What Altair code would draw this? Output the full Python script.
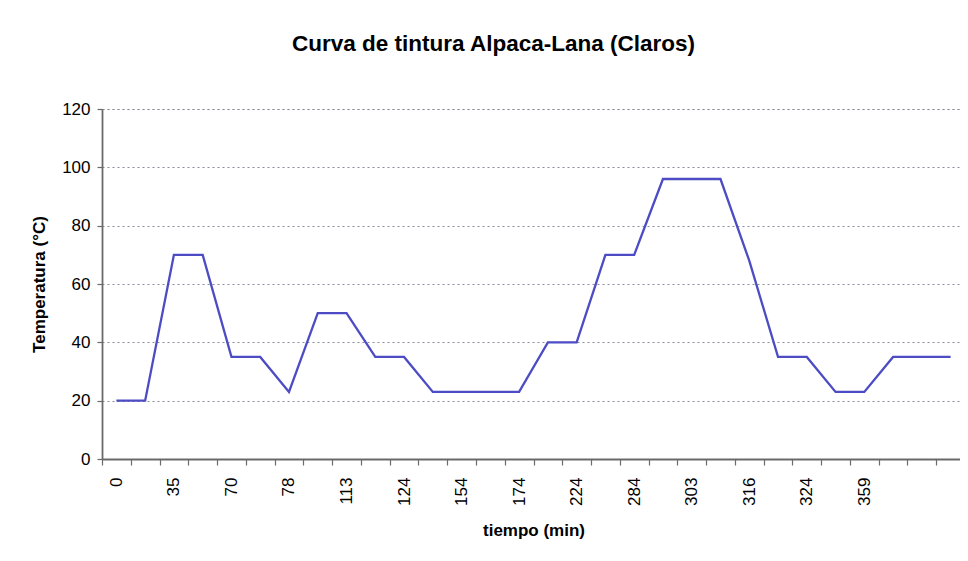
import altair as alt
import pandas as pd
import json

# Category index of each step in the dyeing curve (Excel category axis)
steps = list(range(30))
# Temperature (°C) at each step
temperatures = [20, 20, 70, 70, 35, 35, 23, 50, 50, 35,
                35, 23, 23, 23, 23, 40, 40, 70, 70, 96,
                96, 96, 68, 35, 35, 23, 23, 35, 35, 35]
# Labels shown on every other category
tick_labels = ["0", "35", "70", "78", "113", "124", "154", "174",
               "224", "284", "303", "316", "324", "359", ""]
y_ticks = [0, 20, 40, 60, 80, 100, 120]

df = pd.DataFrame({"step": steps, "temp": temperatures})

label_expr = ("datum.value % 2 == 0 ? " + json.dumps(tick_labels)
              + "[datum.value / 2] : ''")

FONT = "Liberation Sans"

chart = alt.Chart(df).mark_line(color="#4c4cc4", strokeWidth=2.3).encode(
    x=alt.X("step:O",
            bandPosition=0.5,
            scale=alt.Scale(type="band", paddingInner=0, paddingOuter=0),
            axis=alt.Axis(title="tiempo (min)", labelExpr=label_expr,
                          labelAngle=270, labelAlign="right", labelBaseline="middle",
                          labelOverlap=False, labelPadding=12, tickBand="extent",
                          tickSize=6, titlePadding=17, grid=False)),
    y=alt.Y("temp:Q",
            scale=alt.Scale(domain=[0, 120], nice=False),
            axis=alt.Axis(title="Temperatura (°C)", values=y_ticks,
                          tickSize=5, labelPadding=7, titlePadding=13,
                          grid=True, gridDash=[2, 3], gridColor="#8a8a9a",
                          gridWidth=1)),
).properties(
    width=863,
    height=350,
    autosize="none",
    padding={"left": 94, "top": 101, "right": -5, "bottom": 85},
    title=alt.TitleParams(text="Curva de tintura Alpaca-Lana (Claros)",
                          font=FONT, fontSize=22.5, fontWeight="bold",
                          color="black", anchor="middle", frame="group",
                          dx=-40, offset=45),
).configure_axis(
    labelFont=FONT, labelFontSize=17, labelColor="black",
    titleFont=FONT, titleFontSize=17, titleFontWeight="bold", titleColor="black",
    domainColor="#6a6a6a", domainWidth=1.8, tickColor="#6a6a6a", tickWidth=1.2,
).configure_view(
    stroke="#9a9ac0", strokeDash=[2, 3], strokeWidth=1
)

chart.save("out.html", embed_options={"renderer": "svg", "actions": False})
